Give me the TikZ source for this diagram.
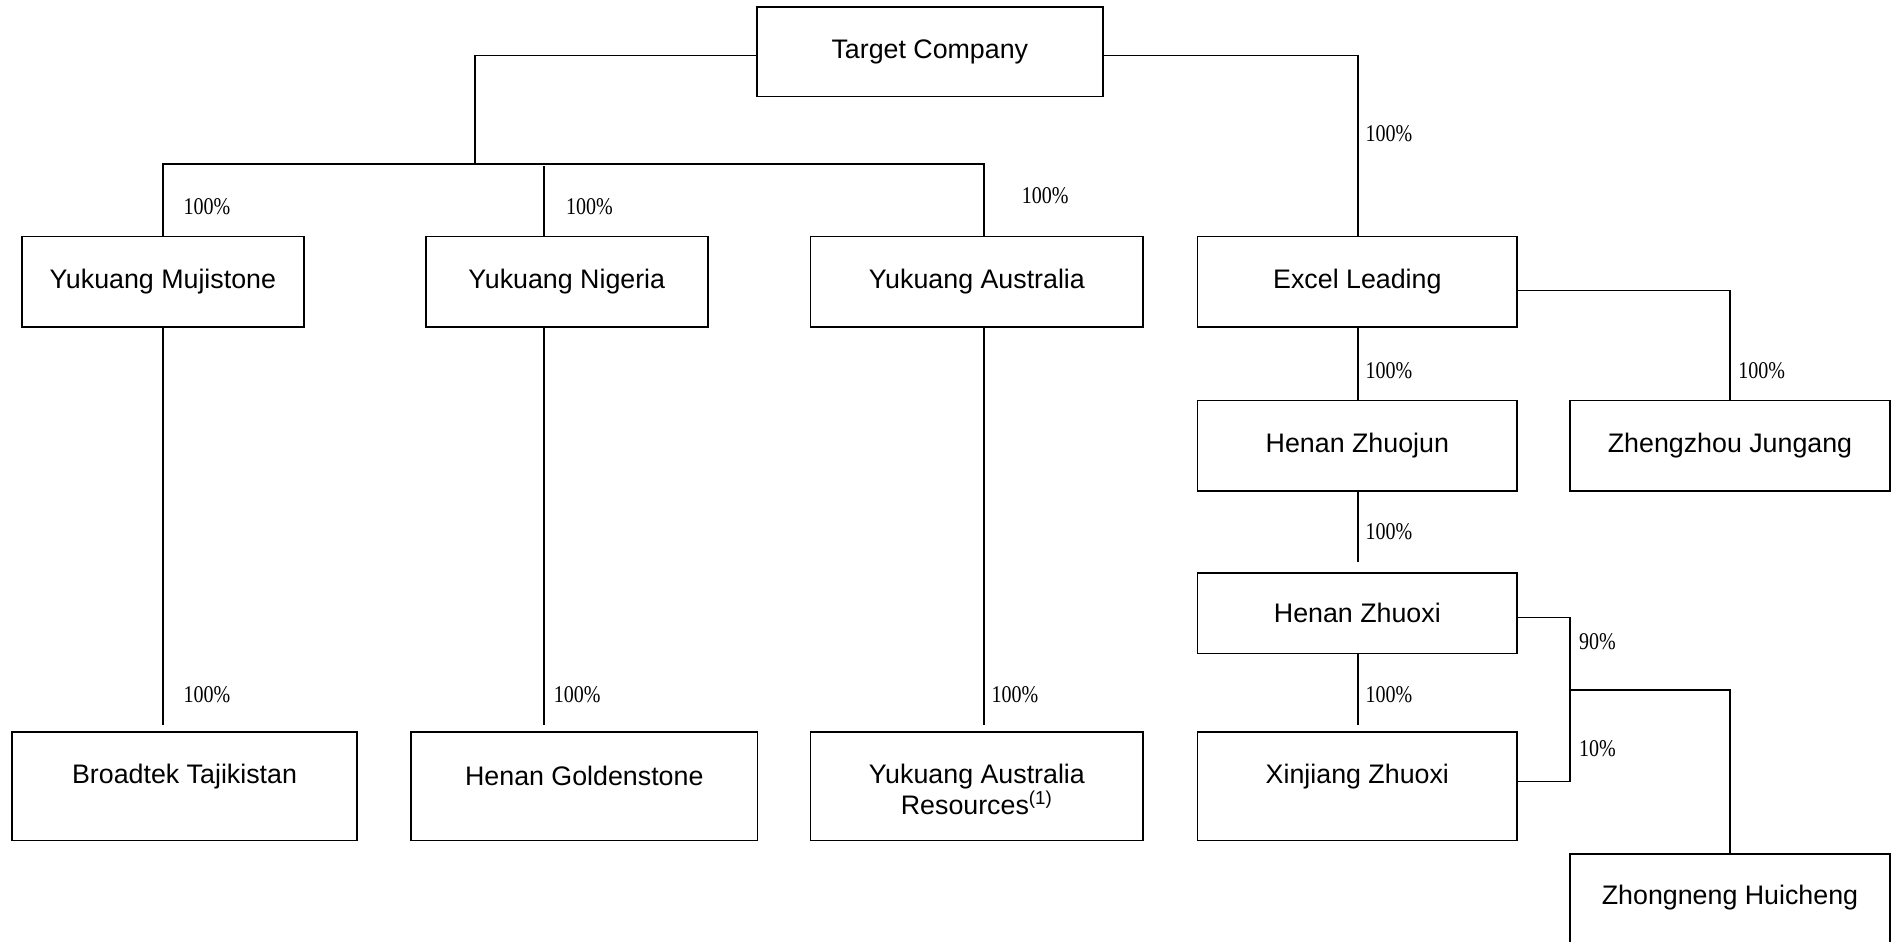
\documentclass[tikz,border=0pt]{standalone}
\usepackage{graphicx}
\usepackage{fontspec}
\setmainfont{Liberation Sans}
\newfontfamily\pctfont{Liberation Serif}
\newcommand{\pc}[1]{\scalebox{1}[1.2]{#1}}
\begin{document}
\begin{tikzpicture}[x=0.603pt,y=-0.603pt,
 box/.style 2 args={draw, line width=0.8pt, inner sep=0pt, minimum width=#1*0.603pt, minimum height=#2*0.603pt},
 txt/.style={inner sep=0pt, font=\fontsize{13.4}{15.6}\selectfont, align=center},
 pct/.style={inner sep=0pt, anchor=west, font=\pctfont\fontsize{10}{12}\selectfont},
 link/.style={line width=0.8pt},
 gapend/.style={shorten >=#1},
 gapend/.default=3pt]
\useasboundingbox (0,0) rectangle (1568,781);

% boxes
\node[box={287}{74}] (tc) at (771,43) {};
\node[box={234}{75}] (ym) at (135,233.5) {};
\node[box={234}{75}] (yn) at (470,233.5) {};
\node[box={276}{75}] (ya) at (810,233.5) {};
\node[box={265}{75}] (el) at (1125.5,233.5) {};
\node[box={265}{75}] (hzj) at (1125.5,369.5) {};
\node[box={265}{75}] (zj) at (1434.5,369.5) {};
\node[box={265}{67}] (hzx) at (1125.5,508.5) {};
\node[box={286}{90}] (bt) at (153,652) {};
\node[box={287}{90}] (hg) at (484.5,652) {};
\node[box={276}{90}] (yar) at (810,652) {};
\node[box={265}{90}] (xz) at (1125.5,652) {};
\node[box={265}{90}] (zh) at (1434.5,753) {};

% box texts
\node[txt] (tct) at (tc.center) {Target Company};
\node[txt] (ymt) at (ym.center) {Yukuang Mujistone};
\node[txt] (ynt) at (yn.center) {Yukuang Nigeria};
\node[txt] (yat) at (ya.center) {Yukuang Australia};
\node[txt] (elt) at (el.center) {Excel Leading};
\node[txt] (hzjt) at (hzj.center) {Henan Zhuojun};
\node[txt] (zjt) at (zj.center) {Zhengzhou Jungang};
\node[txt] (hzxt) at (hzx.center) {Henan Zhuoxi};
\node[txt] (btt) at ([yshift=5pt]bt.center) {Broadtek Tajikistan};
\node[txt] (hgt) at ([yshift=5pt]hg.center) {Henan Goldenstone};
\node[txt] (yart) at ([yshift=-1.5pt]yar.center) {Yukuang Australia\\Resources\textsuperscript{(1)}};
\node[txt] (xzt) at ([yshift=5pt]xz.center) {Xinjiang Zhuoxi};
\node[txt] (zht) at ([yshift=5.5pt]zh.center) {Zhongneng Huicheng};

% helper coordinates
\coordinate (ty) at (0,46);
\coordinate (j1) at (394,136);
\coordinate (ey) at (0,241);
\coordinate (cx1) at (135,0);
\coordinate (cx2) at (451,0);
\coordinate (cx3) at (816,0);
\coordinate (cx4) at (1126,0);
\coordinate (k1) at (1302,512);
\coordinate (k2) at (1302,648);
\coordinate (k3) at (1302,572);

% connectors
\draw[link] (tc.west |- ty) -| (j1);
\draw[link] (ym.north -| cx1) -- (j1 -| cx1) -- (j1 -| cx3) -- (ya.north -| cx3);
\draw[link] (yn.north -| cx2) -- ([yshift=-1pt]j1 -| cx2);
\draw[link] (tc.east |- ty) -| (el.north -| cx4);
\draw[link,gapend] (ym.south -| cx1) -- (bt.north -| cx1);
\draw[link,gapend] (yn.south -| cx2) -- (hg.north -| cx2);
\draw[link,gapend] (ya.south -| cx3) -- (yar.north -| cx3);
\draw[link] (el.south -| cx4) -- (hzj.north -| cx4);
\draw[link,gapend=4.8pt] (hzj.south -| cx4) -- (hzx.north -| cx4);
\draw[link,gapend] (hzx.south -| cx4) -- (xz.north -| cx4);
\draw[link] (el.east |- ey) -| (zj.north);
\draw[link] (hzx.east |- k1) -- (k1) -- (k2) -- (xz.east |- k2);
\draw[link] (k3) -| (zh.north);

% percentage labels
\node[pct] (p1) at (152,171) {\pc{100\%}};
\node[pct] (p2) at (469,171) {\pc{100\%}};
\node[pct] (p3) at (847,162) {\pc{100\%}};
\node[pct] (p4) at (1132,111) {\pc{100\%}};
\node[pct] (p5) at (152,576) {\pc{100\%}};
\node[pct] (p6) at (459,576) {\pc{100\%}};
\node[pct] (p7) at (822,576) {\pc{100\%}};
\node[pct] (p8) at (1132,307) {\pc{100\%}};
\node[pct] (p9) at (1441,307) {\pc{100\%}};
\node[pct] (p10) at (1132,441) {\pc{100\%}};
\node[pct] (p11) at (1132,576) {\pc{100\%}};
\node[pct] (p12) at (1309,532) {\pc{90\%}};
\node[pct] (p13) at (1309,621) {\pc{10\%}};
\end{tikzpicture}
\end{document}
